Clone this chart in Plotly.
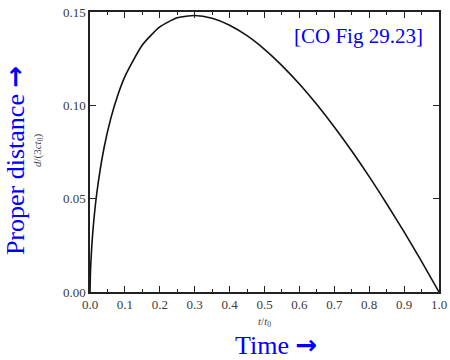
import plotly.graph_objects as go

# values: t/t0 and d/(3 c t0)
t_ratio = [0.0, 0.001, 0.002, 0.005, 0.01, 0.02, 0.04, 0.06, 0.08, 0.10, 0.15, 0.20,
           0.25, 0.30, 0.35, 0.40, 0.45, 0.50, 0.55, 0.60, 0.65, 0.70, 0.75,
           0.80, 0.85, 0.90, 0.95, 1.00]
distance = [0.0, 0.009, 0.0139, 0.0242, 0.0364, 0.0537, 0.0770, 0.0933, 0.1057, 0.1154,
            0.1323, 0.1420, 0.1469, 0.1481, 0.1466, 0.1429, 0.1373, 0.1300, 0.1213,
            0.1114, 0.1004, 0.0884, 0.0755, 0.0618, 0.0473, 0.0322, 0.0164, 0.0]

x_ticks = [0.0, 0.1, 0.2, 0.3, 0.4, 0.5, 0.6, 0.7, 0.8, 0.9, 1.0]
x_tick_text = ["0.0", "0.1", "0.2", "0.3", "0.4", "0.5", "0.6", "0.7", "0.8", "0.9", "1.0"]
x_minor_ticks = [0.05, 0.15, 0.25, 0.35, 0.45, 0.55, 0.65, 0.75, 0.85, 0.95]
y_ticks = [0.0, 0.05, 0.10, 0.15]
y_tick_text = ["0.00", "0.05", "0.10", "0.15"]

fig = go.Figure()
fig.add_trace(go.Scatter(x=t_ratio, y=distance, mode="lines",
                         line=dict(color="#111111", width=1.6, shape="spline", smoothing=0.6),
                         showlegend=False, hoverinfo="skip", cliponaxis=False))

tick_font = dict(family="Liberation Serif, Times New Roman, serif", size=13, color="#3a3a3a")
ARROW = '<span style="font-family:DejaVu Sans;font-weight:bold">→</span>'

fig.update_layout(
    width=450, height=360,
    margin=dict(l=90, r=11, t=12, b=68, autoexpand=False),
    paper_bgcolor="white", plot_bgcolor="white",
    xaxis=dict(range=[0, 1.0], tickvals=x_ticks, ticktext=x_tick_text, automargin=False,
               showgrid=False, zeroline=False, showline=True, linecolor="#222222",
               linewidth=1.5, mirror="ticks", ticks="inside", ticklen=6, tickwidth=1,
               tickcolor="#222222", tickfont=tick_font,
               minor=dict(tickvals=x_minor_ticks,
                          ticks="inside", ticklen=3, tickwidth=1, tickcolor="#222222")),
    yaxis=dict(range=[0, 0.15], tickvals=y_ticks, ticktext=y_tick_text, automargin=False,
               showgrid=False, zeroline=False, showline=True, linecolor="#222222",
               linewidth=1.5, mirror="ticks", ticks="inside", ticklen=6, tickwidth=1,
               tickcolor="#222222", tickfont=tick_font),
    font=dict(family="Liberation Serif, Times New Roman, serif"),
)

fig.add_annotation(text="<i>t</i>/<i>t</i><sub>0</sub>", xref="paper", yref="paper",
                   x=0.501, y=-0.107, xanchor="center", yanchor="middle", showarrow=False,
                   font=dict(size=11, color="#444444"))
fig.add_annotation(text="<i>d</i>/(3<i>ct</i><sub>0</sub>)", xref="paper", yref="paper",
                   x=-0.149, y=0.507, xanchor="center", yanchor="middle", showarrow=False,
                   textangle=-90, font=dict(size=11, color="#444444"))
fig.add_annotation(text="Time " + ARROW, xref="paper", yref="paper",
                   x=0.533, y=-0.19, xanchor="center", yanchor="middle", showarrow=False,
                   font=dict(size=26, color="#0000ff"))
fig.add_annotation(text="Proper distance " + ARROW, xref="paper", yref="paper",
                   x=-0.215, y=0.471, xanchor="center", yanchor="middle", showarrow=False,
                   textangle=-90, font=dict(size=26, color="#0000ff"))
fig.add_annotation(text="[CO Fig 29.23]", xref="paper", yref="paper",
                   x=0.96, y=0.914, xanchor="right", yanchor="middle", showarrow=False,
                   font=dict(size=21, color="#0000ff"))

fig.write_html("out.html", config={"displayModeBar": False},
               post_script="document.body.style.margin='0';")
